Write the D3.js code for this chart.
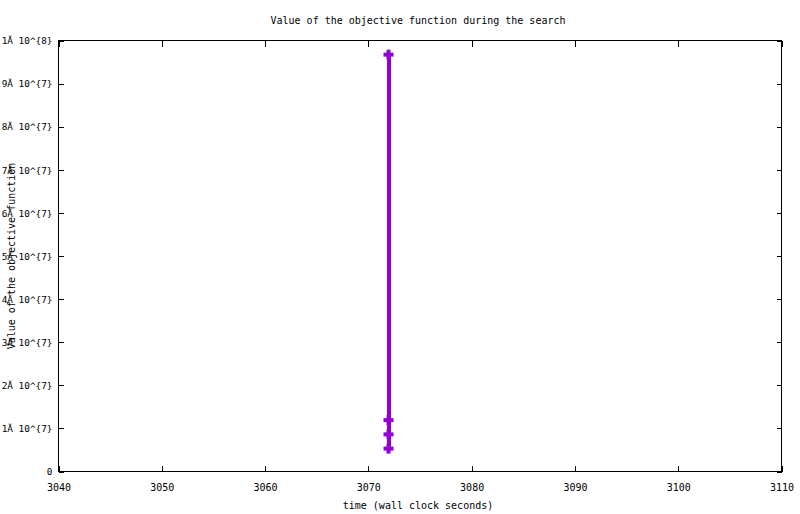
<!DOCTYPE html>
<html><head><meta charset="utf-8">
<script src="https://cdn.jsdelivr.net/npm/d3@7"></script>
<style>
body{margin:0;background:#fff;}
svg{display:block;}
text{font-family:"DejaVu Sans Mono","Liberation Mono",monospace;font-size:10px;fill:#000;}
.ytl text{font-size:9.4px;}
</style></head>
<body>
<script>
// Data
const times = [3072.0, 3072.0, 3072.0, 3072.0];
const objectiveValues = [96600000, 11800000, 8500000, 5200000];
const xTickValues = [3040, 3050, 3060, 3070, 3080, 3090, 3100, 3110];
const yTickValues = [0, 1e7, 2e7, 3e7, 4e7, 5e7, 6e7, 7e7, 8e7, 9e7, 1e8];
const yTickLabels = ["0", "1Ă 10^{7}", "2Ă 10^{7}", "3Ă 10^{7}", "4Ă 10^{7}", "5Ă 10^{7}", "6Ă 10^{7}", "7Ă 10^{7}", "8Ă 10^{7}", "9Ă 10^{7}", "1Ă 10^{8}"];
const titleText = "Value of the objective function during the search";
const xLabelText = "time (wall clock seconds)";
const yLabelText = "Value of the objective function";

const W = 800, H = 514;
const m = {left: 58, right: 781, top: 40, bottom: 471};
const svg = d3.select("body").append("svg").attr("width", W).attr("height", H);

const x = d3.scaleLinear().domain([3040, 3110]).range([m.left, m.right]);
const y = d3.scaleLinear().domain([0, 1e8]).range([m.bottom, m.top]);

// frame
svg.append("rect").attr("x", m.left + 0.5).attr("y", m.top + 0.5)
  .attr("width", m.right - m.left).attr("height", m.bottom - m.top)
  .attr("fill", "none").attr("stroke", "#000").attr("stroke-width", 1)
  .attr("shape-rendering", "crispEdges");

// Axes (inward ticks, mirrored)
const xAxisB = d3.axisBottom(x).tickValues(xTickValues).tickSize(-6).tickPadding(12).tickFormat(d3.format("d"));
const gxb = svg.append("g").attr("transform", `translate(0.5,${m.bottom + 0.5})`).call(xAxisB);
const gxt = svg.append("g").attr("transform", `translate(0.5,${m.top + 0.5})`).call(d3.axisTop(x).tickValues(xTickValues).tickSize(-6).tickFormat(""));
const yAxisL = d3.axisLeft(y).tickValues(yTickValues).tickSize(-5).tickPadding(6)
  .tickFormat((d, i) => yTickLabels[i]);
const gyl = svg.append("g").attr("class", "ytl").attr("transform", `translate(${m.left + 0.5},0.5)`).call(yAxisL);
const gyr = svg.append("g").attr("transform", `translate(${m.right + 0.5},0.5)`).call(d3.axisRight(y).tickValues(yTickValues).tickSize(-5).tickFormat(""));
[gxb, gxt, gyl, gyr].forEach(g => {
  g.select(".domain").remove();
  g.selectAll("line").attr("stroke", "#000").attr("shape-rendering", "crispEdges");
  g.selectAll("text").attr("font-family", null).attr("font-size", null).attr("fill", "#000");
});
gxb.selectAll("text").attr("dy", "0.71em").attr("y", 12);
gyl.selectAll("text").attr("x", -6).attr("dy", "0.35em");

// Series line
const line = d3.line().x((d, i) => x(times[i])).y(d => y(d));
svg.append("path").datum(objectiveValues)
  .attr("d", line).attr("fill", "none").attr("stroke", "#9400d3")
  .attr("stroke-width", 4).attr("shape-rendering", "crispEdges");

// Plus markers
svg.selectAll("g.pt").data(objectiveValues).enter().append("g")
  .attr("transform", (d, i) => `translate(${x(times[i])},${y(d)})`)
  .each(function() {
    const g = d3.select(this);
    g.append("rect").attr("x", -5).attr("y", -2).attr("width", 10).attr("height", 4).attr("fill", "#9400d3");
    g.append("rect").attr("x", -2).attr("y", -5).attr("width", 4).attr("height", 10).attr("fill", "#9400d3");
  });

// Titles
svg.append("text").attr("x", 418).attr("y", 20).attr("dy", "0.35em").attr("text-anchor", "middle").text(titleText);
svg.append("text").attr("x", 418).attr("y", 505).attr("dy", "0.35em").attr("text-anchor", "middle").text(xLabelText);
svg.append("text").attr("transform", "translate(11,256) rotate(-90)").attr("dy", "0.35em").attr("text-anchor", "middle").text(yLabelText);
</script>
</body></html>
